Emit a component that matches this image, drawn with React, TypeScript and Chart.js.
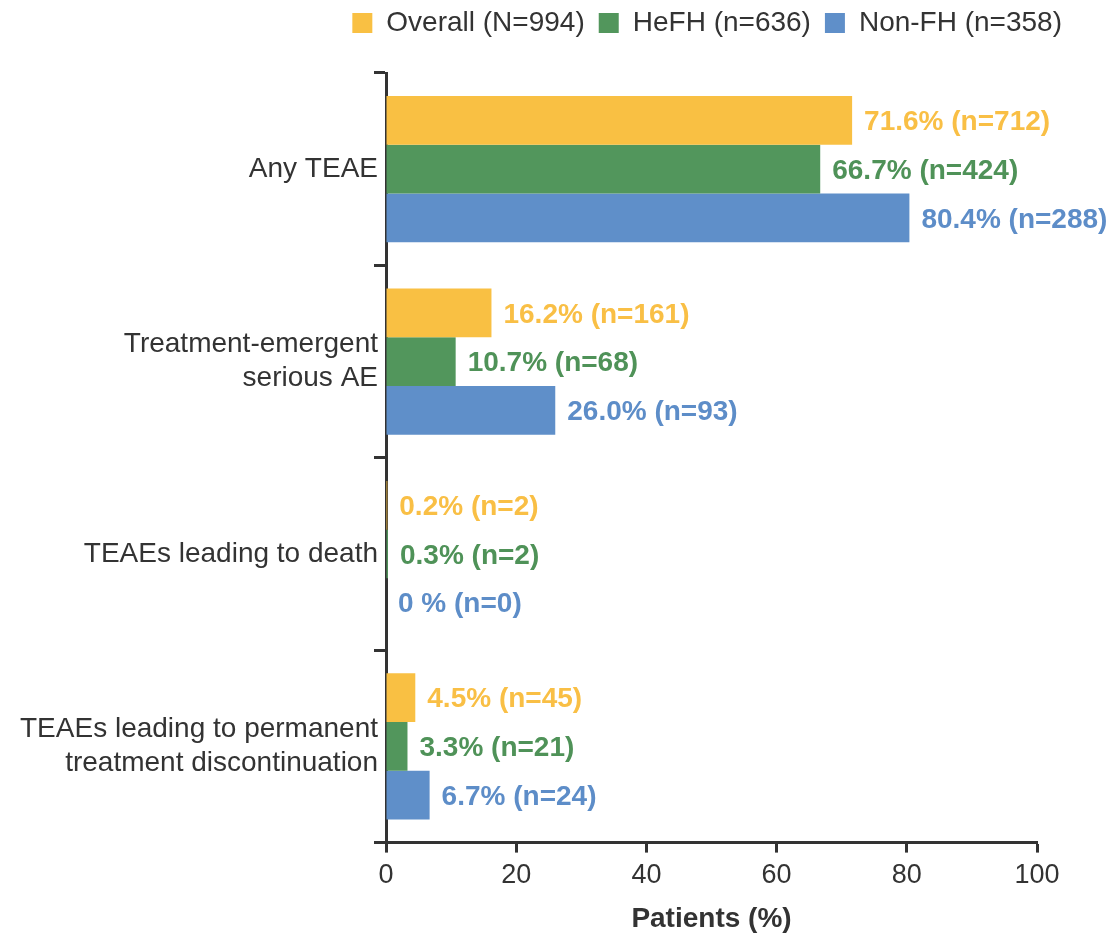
import React, { useEffect, useRef } from "react";
import { Chart, registerables } from "chart.js";

Chart.register(...registerables);

const categories: (string | string[])[] = [
  "Any TEAE",
  ["Treatment-emergent", "serious AE"],
  "TEAEs leading to death",
  ["TEAEs leading to permanent", "treatment discontinuation"],
];

const seriesNames = ["Overall (N=994)", "HeFH (n=636)", "Non-FH (n=358)"];

const overallPct = [71.6, 16.2, 0.2, 4.5];
const hefhPct = [66.7, 10.7, 0.3, 3.3];
const nonfhPct = [80.4, 26.0, 0, 6.7];

const overallN = [712, 161, 2, 45];
const hefhN = [424, 68, 2, 21];
const nonfhN = [288, 93, 0, 24];

const xTicks = [0, 20, 40, 60, 80, 100];

const barColors = ["#F9C043", "#52965C", "#5F8FC9"];
const labelColors = ["#F9BF45", "#4F9258", "#5D8DC8"];

const FONT = "'Liberation Sans', Arial, Helvetica, sans-serif";
const TEXT = "#333333";
const AXIS = "#333333";

const LEGEND_SHIFT = -26;

function fmtLabel(pct: number, n: number): string {
  const p = pct === 0 ? "0 %" : pct.toFixed(1) + "%";
  return `${p} (n=${n})`;
}

const legendShiftPlugin = {
  id: "legendShift",
  afterLayout(chart: any) {
    const lg = chart.legend;
    if (lg) {
      lg.top += LEGEND_SHIFT;
      lg.bottom += LEGEND_SHIFT;
    }
  },
};

const valueLabelPlugin = {
  id: "valueLabels",
  afterDatasetsDraw(chart: any) {
    const ctx = chart.ctx;
    const nsArr = [overallN, hefhN, nonfhN];
    ctx.save();
    ctx.font = `bold 28px ${FONT}`;
    ctx.textAlign = "left";
    ctx.textBaseline = "middle";
    chart.data.datasets.forEach((ds: any, i: number) => {
      const meta = chart.getDatasetMeta(i);
      ctx.fillStyle = labelColors[i];
      meta.data.forEach((el: any, j: number) => {
        const txt = fmtLabel(ds.data[j], nsArr[i][j]);
        ctx.fillText(txt, el.x + 12, el.y + 2);
      });
    });
    ctx.restore();
  },
};

export default function App() {
  const ref = useRef<HTMLCanvasElement | null>(null);

  useEffect(() => {
    if (!ref.current) return;
    const chart = new Chart(ref.current, {
      type: "bar",
      data: {
        labels: categories,
        datasets: [
          { label: seriesNames[0], data: overallPct, backgroundColor: barColors[0], borderWidth: 0 },
          { label: seriesNames[1], data: hefhPct, backgroundColor: barColors[1], borderWidth: 0 },
          { label: seriesNames[2], data: nonfhPct, backgroundColor: barColors[2], borderWidth: 0 },
        ],
      },
      options: {
        indexAxis: "y",
        responsive: false,
        animation: false,
        datasets: { bar: { categoryPercentage: 0.76, barPercentage: 1.0 } },
        layout: { padding: { left: 0, right: 39, top: 0, bottom: 0 } },
        plugins: {
          legend: {
            position: "top",
            align: "end",
            labels: {
              boxWidth: 20,
              boxHeight: 20,
              padding: 14,
              color: TEXT,
              font: { family: FONT, size: 28 },
            },
          },
          tooltip: { enabled: false },
        },
        scales: {
          x: {
            type: "linear",
            min: 0,
            max: 100,
            afterBuildTicks: (s: any) => {
              s.ticks = xTicks.map((v) => ({ value: v }));
            },
            afterFit: (s: any) => {
              s.paddingRight = 78;
            },
            grid: {
              drawOnChartArea: false,
              drawTicks: true,
              tickLength: 10,
              tickWidth: 3,
              tickColor: AXIS,
            },
            border: { display: true, color: AXIS, width: 3 },
            ticks: { color: TEXT, padding: 7, font: { family: FONT, size: 27 } },
            title: {
              display: true,
              text: "Patients (%)",
              color: TEXT,
              padding: { top: 6, bottom: 0 },
              font: { family: FONT, size: 28, weight: "bold", lineHeight: 1.0 },
            },
          },
          y: {
            type: "category",
            afterFit: (s: any) => {
              s.width = 386;
              s.paddingTop = 73;
            },
            grid: {
              offset: true,
              drawOnChartArea: false,
              drawTicks: true,
              tickLength: 12,
              tickWidth: 3,
              tickColor: AXIS,
            },
            border: { display: true, color: AXIS, width: 3 },
            ticks: {
              color: TEXT,
              padding: -4,
              font: { family: FONT, size: 28, lineHeight: 1.22 },
            },
          },
        },
      },
      plugins: [valueLabelPlugin, legendShiftPlugin],
    } as any);
    return () => chart.destroy();
  }, []);

  return (
    <div style={{ position: "absolute", left: 0, top: 0, width: 1115, height: 933, background: "#fff" }}>
      <canvas ref={ref} width={1115} height={933} />
    </div>
  );
}
